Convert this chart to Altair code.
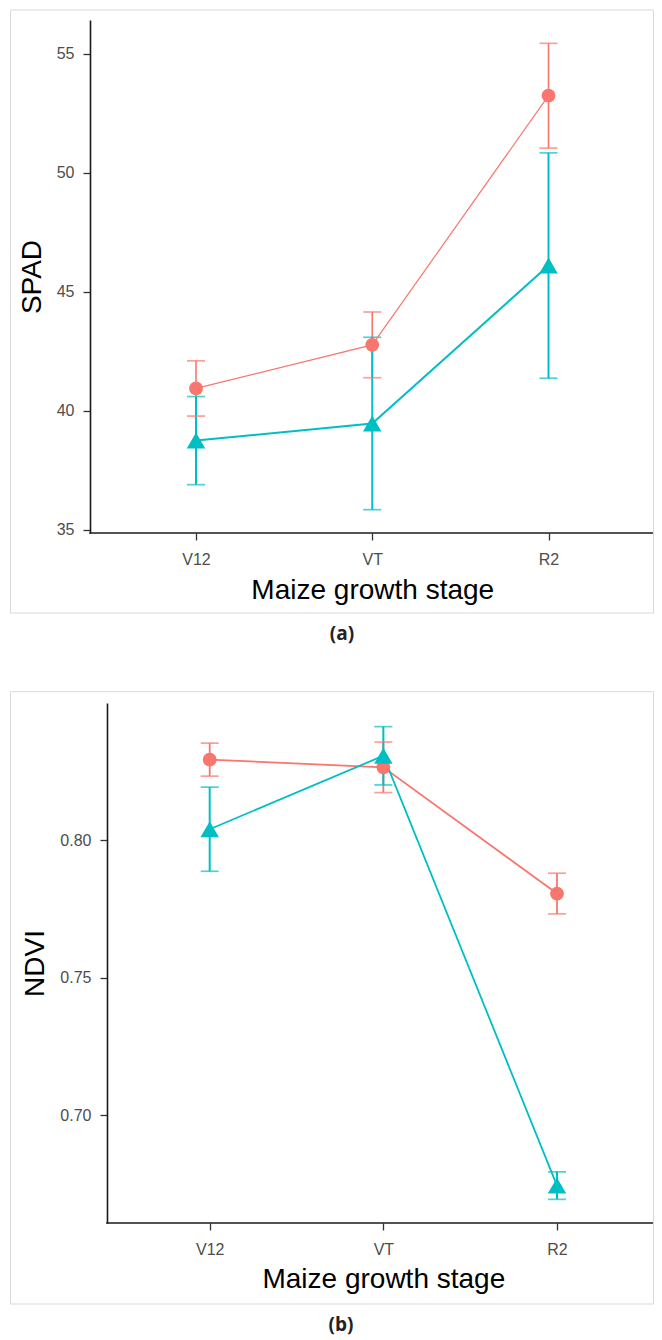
import altair as alt
import pandas as pd

# ---------------- data ----------------
stages = ["V12", "VT", "R2"]
groups = ["Group 1", "Group 2"]

spad_mean_1 = [40.94, 42.77, 53.23]
spad_se_1 = [1.16, 1.38, 2.20]
spad_mean_2 = [38.75, 39.47, 46.10]
spad_se_2 = [1.85, 3.62, 4.73]

ndvi_mean_1 = [0.8294, 0.8266, 0.7807]
ndvi_se_1 = [0.0060, 0.0092, 0.0074]
ndvi_mean_2 = [0.8041, 0.8308, 0.6745]
ndvi_se_2 = [0.0153, 0.0106, 0.0050]

spad_ticks = [35, 40, 45, 50, 55]
ndvi_ticks = [0.70, 0.75, 0.80]

colors = ["#F8766D", "#00BFC4"]
shapes = ["circle", "triangle-up"]

FONT = "Liberation Sans"


def make_df(m1, s1, m2, s2):
    rows = []
    for g, ms, ss in [(groups[0], m1, s1), (groups[1], m2, s2)]:
        for st, m, s in zip(stages, ms, ss):
            rows.append({"stage": st, "group": g, "mean": m, "lo": m - s, "hi": m + s})
    return pd.DataFrame(rows)


one = pd.DataFrame({"k": [0]})


def spacer():
    return alt.Chart(one).mark_rect(opacity=0).encode(
        x=alt.value(0), x2=alt.value(1), y=alt.value(0), y2=alt.value(1)
    ).properties(width=1, height=1)


def panel(df, ytitle, ticks, fmt, W, H, xrange, bounds, frame, caption, cap_pos,
          line_w, rule_w, title_pad):
    lo = df["lo"].min()
    hi = df["hi"].max()
    pad = 0.05 * (hi - lo)
    yscale = alt.Scale(domain=[lo - pad, hi + pad], nice=False, zero=False)
    xscale = alt.Scale(type="point", range=xrange, padding=0)

    xaxis = alt.Axis(title="Maize growth stage", labelAngle=0, grid=False,
                     domain=False,
                     tickColor="#333333", tickWidth=1.3, tickSize=7,
                     labelFont=FONT, labelFontSize=16, labelColor="#4d4d4d",
                     labelPadding=11, titleFont=FONT, titleFontSize=28,
                     titleFontWeight="normal", titleColor="#000000",
                     titlePadding=title_pad)
    yaxis = alt.Axis(title=ytitle, values=ticks, format=fmt, grid=False,
                     domainColor="#1a1a1a", domainWidth=1.6,
                     tickColor="#333333", tickWidth=1.3, tickSize=7,
                     labelFont=FONT, labelFontSize=16, labelColor="#4d4d4d",
                     labelPadding=9, titleFont=FONT, titleFontSize=28,
                     titleFontWeight="normal", titleColor="#000000",
                     titlePadding=10)

    X = alt.X("stage:N", sort=stages, scale=xscale, axis=xaxis)
    color = alt.Color("group:N", scale=alt.Scale(domain=groups, range=colors), legend=None)

    bnd = alt.Chart(one).mark_rect(fill="white", fillOpacity=0, strokeOpacity=0).encode(
        x=alt.value(bounds[0]), x2=alt.value(bounds[1]),
        y=alt.value(bounds[2]), y2=alt.value(bounds[3]))
    frm = alt.Chart(one).mark_rect(fill="white", fillOpacity=0, stroke="#d9d9d9",
                                   strokeWidth=1).encode(
        x=alt.value(frame[0]), x2=alt.value(frame[1]),
        y=alt.value(frame[2]), y2=alt.value(frame[3]))
    xdomain = alt.Chart(one).mark_rule(color="#1a1a1a", strokeWidth=1.6).encode(
        x=alt.value(-0.8), x2=alt.value(W), y=alt.value(H))

    base = alt.Chart(df)
    rules = base.mark_rule().encode(
        x=X, y=alt.Y("lo:Q", scale=yscale, axis=yaxis), y2="hi:Q", color=color,
        strokeWidth=alt.StrokeWidth("group:N", scale=alt.Scale(domain=groups, range=rule_w), legend=None))
    cap_lo = base.mark_tick(size=18, thickness=1.7).encode(
        x=X, y=alt.Y("lo:Q", scale=yscale, axis=yaxis), color=color)
    cap_hi = base.mark_tick(size=18, thickness=1.7).encode(
        x=X, y=alt.Y("hi:Q", scale=yscale, axis=yaxis), color=color)
    lines = base.mark_line().encode(
        x=X, y=alt.Y("mean:Q", scale=yscale, axis=yaxis), color=color, detail="group:N",
        strokeWidth=alt.StrokeWidth("group:N", scale=alt.Scale(domain=groups, range=line_w), legend=None))
    pts = base.mark_point(filled=True, opacity=1).encode(
        x=X, y=alt.Y("mean:Q", scale=yscale, axis=yaxis), color=color,
        shape=alt.Shape("group:N", scale=alt.Scale(domain=groups, range=shapes), legend=None),
        size=alt.Size("group:N", scale=alt.Scale(domain=groups, range=[190, 340]), legend=None))
    cap = alt.Chart(one).mark_text(text=caption, font="Open Sans", fontWeight="bold",
                                   fontSize=19, color="#222222", baseline="middle",
                                   align="center").encode(
        x=alt.value(cap_pos[0]), y=alt.value(cap_pos[1]))

    return alt.layer(bnd, frm, xdomain, rules, cap_lo, cap_hi, lines, pts, cap).resolve_scale(
        strokeWidth="independent").properties(width=W, height=H)


df_spad = make_df(spad_mean_1, spad_se_1, spad_mean_2, spad_se_2)
df_ndvi = make_df(ndvi_mean_1, ndvi_se_1, ndvi_mean_2, ndvi_se_2)

top = panel(df_spad, "SPAD", spad_ticks, "d", 563, 513, xrange=[106, 458.5],
            bounds=(-81, 564, -12, 660), frame=(-79.5, 563.5, -10, 593),
            caption="(a)", cap_pos=(252, 614),
            line_w=[1.2, 2.0], rule_w=[1.6, 2.0], title_pad=9)
bottom = panel(df_ndvi, "NDVI", ndvi_ticks, ".2f", 546, 520, xrange=[102.7, 450],
               bounds=(-98, 547, -23, 634), frame=(-96.5, 546.5, -11.3, 601),
               caption="(b)", cap_pos=(234, 622),
               line_w=[1.8, 1.8], rule_w=[1.8, 2.0], title_pad=8)

row_top = alt.hconcat(spacer(), top, spacing=0)
row_bottom = alt.hconcat(spacer(), bottom, spacing=0)

chart = alt.vconcat(row_top, row_bottom, spacing=0).properties(
    padding=0).configure_view(stroke=None)

chart.save("out.html", embed_options={"renderer": "svg", "actions": False})
